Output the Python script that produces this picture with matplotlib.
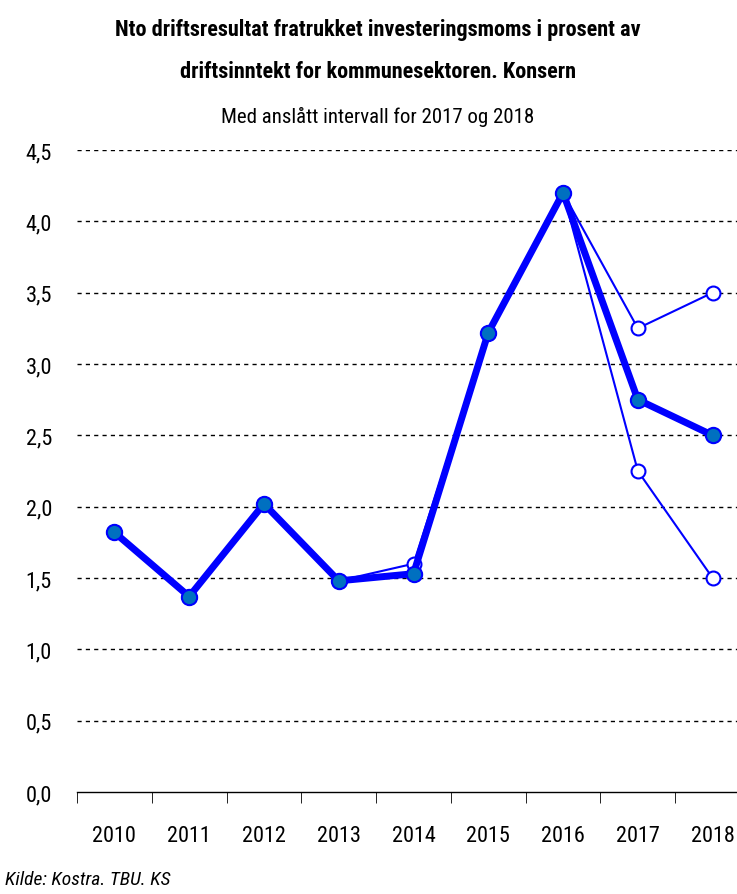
import matplotlib
matplotlib.use("Agg")
import matplotlib.pyplot as plt
from matplotlib import font_manager

years = ["2010", "2011", "2012", "2013", "2014", "2015", "2016", "2017", "2018"]
main_vals = [1.82, 1.37, 2.02, 1.48, 1.53, 3.22, 4.20, 2.75, 2.50]
high_vals = [1.82, 1.37, 2.02, 1.48, 1.60, 3.22, 4.20, 3.25, 3.50]
low_vals = [1.82, 1.37, 2.02, 1.48, 1.53, 3.22, 4.20, 2.25, 1.50]
yticks = [0.0, 0.5, 1.0, 1.5, 2.0, 2.5, 3.0, 3.5, 4.0, 4.5]

# look for a condensed face, fall back to Noto Sans
names = {f.name for f in font_manager.fontManager.ttflist}
family = "Noto Sans"
for cand in ("Liberation Sans Narrow", "Roboto Condensed", "Open Sans Condensed", "Noto Sans Condensed"):
    if cand in names:
        family = cand
        break
plt.rcParams['font.family'] = [family, 'DejaVu Sans']
plt.rcParams['font.stretch'] = 'condensed'

fig = plt.figure(figsize=(7.37, 8.95), dpi=100)
ax = fig.add_axes([77 / 737, 102 / 895, 673 / 737, 642 / 895])

x = list(range(len(years)))
blue = "#0000FF"
for vals in (high_vals, low_vals):
    ax.plot(x, vals, color=blue, lw=1.5, marker="o", ms=10,
            mfc="white", mec=blue, mew=1.5, zorder=3)
ax.plot(x, main_vals, color=blue, lw=5, marker="o", ms=11,
        mfc="#0070C0", mec=blue, mew=1.5, zorder=4)

ax.set_xlim(-0.5, 8.5)
ax.set_ylim(0, 4.5)
ax.set_yticks(yticks)
ax.set_yticklabels([f"{v:.1f}".replace(".", ",") for v in yticks], fontsize=16)
ax.set_xticks(x)
ax.set_xticklabels(years, fontsize=16)
ax.set_xticks([i - 0.5 for i in range(len(years) + 1)], minor=True)
ax.tick_params(axis="x", which="major", length=0, pad=24)
ax.tick_params(axis="x", which="minor", length=8, direction="out", color="black")
ax.tick_params(axis="y", length=0, pad=18)

for v in yticks[1:]:
    ax.axhline(v, color="black", lw=1, ls=(0, (3, 3)), zorder=1)

for s in ("left", "right", "top"):
    ax.spines[s].set_visible(False)
ax.spines["bottom"].set_color("black")
ax.spines["bottom"].set_linewidth(1)

fig.text(378 / 737, 1 - 30 / 895, "Nto driftsresultat fratrukket investeringsmoms i prosent av",
         ha="center", va="center", fontsize=16, fontweight="bold")
fig.text(378 / 737, 1 - 72 / 895, "driftsinntekt for kommunesektoren. Konsern",
         ha="center", va="center", fontsize=16, fontweight="bold")
fig.text(378 / 737, 1 - 117 / 895, "Med anslått intervall for 2017 og 2018",
         ha="center", va="center", fontsize=15)
fig.text(5 / 737, 1 - 880 / 895, "Kilde: Kostra. TBU. KS",
         ha="left", va="center", fontsize=14, style="italic")

fig.savefig("out.png", dpi=100)
